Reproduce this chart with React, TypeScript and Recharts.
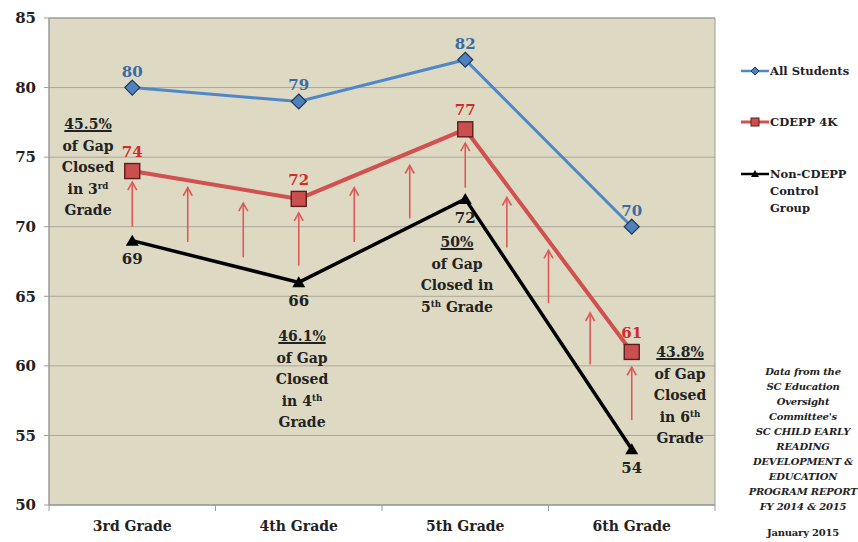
import * as React from "react";
import {
  CartesianGrid,
  LabelList,
  Line,
  LineChart,
  ReferenceArea,
  ReferenceLine,
  XAxis,
  YAxis,
} from "recharts";

const categories = ["3rd Grade", "4th Grade", "5th Grade", "6th Grade"];
const allStudents = [80, 79, 82, 70];
const cdepp = [74, 72, 77, 61];
const control = [69, 66, 72, 54];
const yTicks = [50, 55, 60, 65, 70, 75, 80, 85];

// red "gap closing" arrows: x in category units, from / to in score units
const arrowX = [0, 1 / 3, 2 / 3, 1, 4 / 3, 5 / 3, 2, 2.25, 2.5, 2.75, 3];
const arrowFrom = [70.0, 68.9, 67.8, 67.2, 68.9, 70.6, 72.8, 68.5, 64.5, 60.1, 56.1];
const arrowTo = [73.2, 72.8, 71.7, 71.0, 72.8, 74.4, 76.0, 72.1, 68.3, 63.8, 59.9];

const gapNotes = [
  ["45.5%", "of Gap", "Closed", "in 3{rd}", "Grade"],
  ["46.1%", "of Gap", "Closed", "in 4{th}", "Grade"],
  ["50%", "of Gap", "Closed in", "5{th} Grade"],
  ["43.8%", "of Gap", "Closed", "in 6{th}", "Grade"],
];

const sourceLines = [
  "Data from the",
  "SC Education",
  "Oversight",
  "Committee's",
  "SC CHILD EARLY",
  "READING",
  "DEVELOPMENT &",
  "EDUCATION",
  "PROGRAM REPORT",
  "FY 2014 & 2015",
];

const data = categories.map((name, i) => ({
  x: i,
  name,
  all: allStudents[i],
  cdepp: cdepp[i],
  control: control[i],
}));

const xTicks = categories.flatMap((_, i) => [i - 0.5, i]).concat(categories.length - 0.5);

const FONT = "'DejaVu Serif', serif";
const BLUE = "#4f87c9";
const RED = "#d2504f";
const ARROW = "#e0585a";

// note positions (center x, center y of first line) in page pixels
const notePos = [
  [88, 125],
  [302, 337],
  [457, 243],
  [680, 353],
];

function Diamond(props: any) {
  const { cx, cy, index } = props;
  if (cx == null || cy == null) return null;
  const r = 7.5;
  return (
    <path
      key={`dia-${index}`}
      d={`M${cx},${cy - r}L${cx + r},${cy}L${cx},${cy + r}L${cx - r},${cy}Z`}
      fill="#4f81bd"
      stroke="#1d3a5e"
      strokeWidth={1.2}
    />
  );
}

function Square(props: any) {
  const { cx, cy, index } = props;
  if (cx == null || cy == null) return null;
  return (
    <rect
      key={`sq-${index}`}
      x={cx - 7.5}
      y={cy - 7.5}
      width={15}
      height={15}
      fill="#c9504f"
      stroke="#5a1f1e"
      strokeWidth={1.4}
    />
  );
}

function Triangle(props: any) {
  const { cx, cy, index } = props;
  if (cx == null || cy == null) return null;
  return (
    <path
      key={`tri-${index}`}
      d={`M${cx},${cy - 6}L${cx + 6.5},${cy + 5}L${cx - 6.5},${cy + 5}Z`}
      fill="#000"
    />
  );
}

function ArrowShape(props: any) {
  const { x1, y1, x2, y2 } = props;
  if (x1 == null) return null;
  return (
    <g>
      <line x1={x1} y1={y1} x2={x2} y2={y2} stroke={ARROW} strokeWidth={1.6} />
      <path
        d={`M${x2 - 4.5},${y2 + 8}L${x2},${y2}L${x2 + 4.5},${y2 + 8}`}
        fill="none"
        stroke={ARROW}
        strokeWidth={1.6}
      />
    </g>
  );
}

function CategoryTick(props: any) {
  const { x, y, payload } = props;
  const v = payload.value;
  if (Number.isInteger(v)) {
    return (
      <text
        x={x}
        y={y + 26}
        textAnchor="middle"
        fontFamily={FONT}
        fontWeight="bold"
        fontSize={14}
        fill="#222"
      >
        {categories[v]}
      </text>
    );
  }
  return <line x1={x} y1={y} x2={x} y2={y + 6} stroke="#9a9a9a" strokeWidth={1} />;
}

function RichLine({ text }: { text: string }) {
  const parts = text.split(/\{(.*?)\}/);
  return (
    <>
      {parts.map((p, i) =>
        i % 2 === 1 ? (
          <sup key={i} style={{ fontSize: "0.62em", verticalAlign: "0.55em", lineHeight: 0 }}>
            {p}
          </sup>
        ) : (
          <span key={i}>{p}</span>
        )
      )}
    </>
  );
}

function LegendSwatch({ kind, color }: { kind: string; color: string }) {
  return (
    <svg width={28} height={12} style={{ display: "block", flex: "none" }}>
      <line x1={0} y1={6} x2={28} y2={6} stroke={color} strokeWidth={kind === "sq" ? 3 : 2.5} />
      {kind === "dia" && <path d="M14,2L18,6L14,10L10,6Z" fill="#4f81bd" stroke="#1d3a5e" />}
      {kind === "sq" && <rect x={10} y={2} width={8} height={8} fill="#c9504f" stroke="#5a1f1e" />}
      {kind === "tri" && <path d="M14,2L18,9L10,9Z" fill="#000" />}
    </svg>
  );
}

export default function App() {
  const legendItems = [
    { kind: "dia", color: BLUE, lines: ["All Students"], top: 63 },
    { kind: "sq", color: RED, lines: ["CDEPP 4K"], top: 114 },
    { kind: "tri", color: "#000", lines: ["Non-CDEPP", "Control", "Group"], top: 166 },
  ];
  return (
    <div
      style={{
        position: "absolute",
        left: 0,
        top: 0,
        width: 858,
        height: 542,
        background: "#fff",
        fontFamily: FONT,
        overflow: "hidden",
      }}
    >
      <LineChart
        width={858}
        height={542}
        data={data}
        margin={{ top: 18, right: 143, bottom: 0, left: 0 }}
      >
        <CartesianGrid
          vertical={false}
          fill="#ddd9c3"
          stroke="#aaa797"
          strokeWidth={1}
          horizontalValues={yTicks}
        />
        <ReferenceArea
          x1={-0.5}
          x2={3.5}
          y1={50}
          y2={85}
          fill="none"
          stroke="#9a9a9a"
          strokeWidth={1}
        />
        <XAxis
          dataKey="x"
          type="number"
          domain={[-0.5, 3.5]}
          ticks={xTicks}
          interval={0}
          allowDecimals
          tick={<CategoryTick />}
          tickLine={false}
          tickSize={0}
          tickMargin={0}
          axisLine={{ stroke: "#9a9a9a" }}
          height={37}
        />
        <YAxis
          type="number"
          domain={[50, 85]}
          ticks={yTicks}
          interval={0}
          width={49}
          tickSize={5}
          tickMargin={8}
          tickLine={{ stroke: "#9a9a9a" }}
          axisLine={{ stroke: "#9a9a9a" }}
          tick={{ fill: "#222", fontSize: 15, fontWeight: "bold", fontFamily: FONT }}
        />
        {arrowX.map((x, i) => (
          <ReferenceLine
            key={`arrow-${i}`}
            segment={[
              { x, y: arrowFrom[i] },
              { x, y: arrowTo[i] },
            ]}
            stroke={ARROW}
            shape={(p: any) => <ArrowShape {...p} />}
          />
        ))}
        <Line
          dataKey="control"
          stroke="#000"
          strokeWidth={3.5}
          dot={(p: any) => <Triangle {...p} key={`tri-${p.index}`} />}
          activeDot={false}
          isAnimationActive={false}
        >
          <LabelList
            dataKey="control"
            position="bottom"
            offset={13}
            fill="#222"
            fontSize={15}
            fontWeight="bold"
            fontFamily={FONT}
          />
        </Line>
        <Line
          dataKey="all"
          stroke={BLUE}
          strokeWidth={3}
          dot={(p: any) => <Diamond {...p} key={`dia-${p.index}`} />}
          activeDot={false}
          isAnimationActive={false}
        >
          <LabelList
            dataKey="all"
            position="top"
            offset={11}
            fill="#3a6ba3"
            fontSize={15}
            fontWeight="bold"
            fontFamily={FONT}
          />
        </Line>
        <Line
          dataKey="cdepp"
          stroke={RED}
          strokeWidth={4}
          dot={(p: any) => <Square {...p} key={`sq-${p.index}`} />}
          activeDot={false}
          isAnimationActive={false}
        >
          <LabelList
            dataKey="cdepp"
            position="top"
            offset={14}
            fill="#d42a2a"
            fontSize={15}
            fontWeight="bold"
            fontFamily={FONT}
          />
        </Line>
      </LineChart>

      {gapNotes.map((lines, n) => (
        <div
          key={`note-${n}`}
          style={{
            position: "absolute",
            left: notePos[n][0],
            top: notePos[n][1] - 11,
            transform: "translateX(-50%)",
            textAlign: "center",
            fontSize: 14,
            lineHeight: "21.5px",
            fontWeight: "bold",
            color: "#222",
            whiteSpace: "nowrap",
          }}
        >
          {lines.map((l, i) => (
            <div key={i} style={i === 0 ? { textDecoration: "underline", textDecorationThickness: 2 } : undefined}>
              <RichLine text={l} />
            </div>
          ))}
        </div>
      ))}

      {legendItems.map((it, i) => (
        <div
          key={`leg-${i}`}
          style={{
            position: "absolute",
            left: 741,
            top: it.top,
            display: "flex",
            alignItems: "flex-start",
            fontSize: 11.5,
            fontWeight: "bold",
            lineHeight: "17px",
            color: "#222",
            whiteSpace: "nowrap",
          }}
        >
          <div style={{ paddingTop: 2 }}>
            <LegendSwatch kind={it.kind} color={it.color} />
          </div>
          <div style={{ marginLeft: 1 }}>
            {it.lines.map((l, j) => (
              <div key={j}>{l}</div>
            ))}
          </div>
        </div>
      ))}

      <div
        style={{
          position: "absolute",
          left: 803,
          top: 364,
          transform: "translateX(-50%)",
          textAlign: "center",
          fontSize: 10,
          lineHeight: "15px",
          fontWeight: "bold",
          fontStyle: "italic",
          color: "#222",
          whiteSpace: "nowrap",
          letterSpacing: -0.2,
        }}
      >
        {sourceLines.map((l, i) => (
          <div key={i}>{l}</div>
        ))}
        <div style={{ fontStyle: "normal", marginTop: 11 }}>January 2015</div>
      </div>
    </div>
  );
}
